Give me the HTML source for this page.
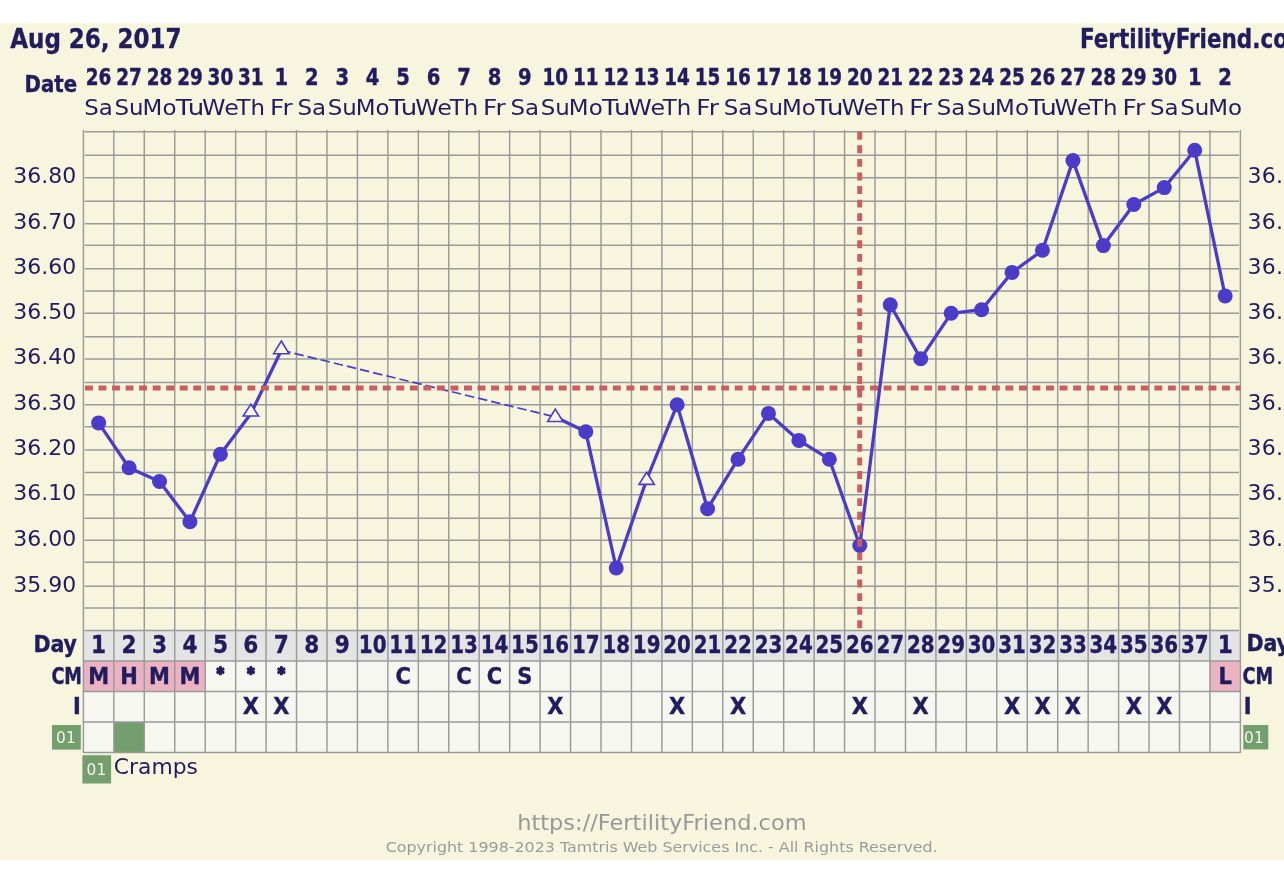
<!DOCTYPE html>
<html lang="en"><head><meta charset="utf-8"><title>FertilityFriend chart - Aug 26, 2017</title>
<style>html,body{margin:0;padding:0;background:#fff;overflow:hidden}svg{display:block}text{white-space:pre}</style></head><body>
<svg width="1284" height="871" viewBox="0 0 1284 871">
<rect x="0" y="0" width="1284" height="871" fill="#fff"/>
<rect x="0" y="23.3" width="1284" height="836.8" fill="#f7f5de"/>
<rect x="83.4" y="630.51" width="1156.99" height="30.5" fill="#e4e4e4"/>
<rect x="83.4" y="661.01" width="1156.99" height="91.5" fill="#f7f7f1"/>
<rect x="83.40" y="661.01" width="30.447" height="30.5" fill="#ebb2c2"/>
<rect x="113.85" y="661.01" width="30.447" height="30.5" fill="#ebb2c2"/>
<rect x="144.29" y="661.01" width="30.447" height="30.5" fill="#ebb2c2"/>
<rect x="174.74" y="661.01" width="30.447" height="30.5" fill="#ebb2c2"/>
<rect x="1209.94" y="661.01" width="30.447" height="30.5" fill="#ebb2c2"/>
<rect x="113.85" y="722.01" width="30.447" height="30.5" fill="#739e6d"/>
<path d="M83.40 130.10V753.11M113.85 130.10V753.11M144.29 130.10V753.11M174.74 130.10V753.11M205.19 130.10V753.11M235.63 130.10V753.11M266.08 130.10V753.11M296.53 130.10V753.11M326.98 130.10V753.11M357.42 130.10V753.11M387.87 130.10V753.11M418.32 130.10V753.11M448.76 130.10V753.11M479.21 130.10V753.11M509.66 130.10V753.11M540.11 130.10V753.11M570.55 130.10V753.11M601.00 130.10V753.11M631.45 130.10V753.11M661.89 130.10V753.11M692.34 130.10V753.11M722.79 130.10V753.11M753.23 130.10V753.11M783.68 130.10V753.11M814.13 130.10V753.11M844.57 130.10V753.11M875.02 130.10V753.11M905.47 130.10V753.11M935.92 130.10V753.11M966.36 130.10V753.11M996.81 130.10V753.11M1027.26 130.10V753.11M1057.70 130.10V753.11M1088.15 130.10V753.11M1118.60 130.10V753.11M1149.05 130.10V753.11M1179.49 130.10V753.11M1209.94 130.10V753.11M1240.39 130.10V753.11M84.70 131.70H1238.89M84.70 155.30H1238.89M84.70 177.70H1238.89M84.70 201.30H1238.89M84.70 223.70H1238.89M84.70 245.30H1238.89M84.70 268.70H1238.89M84.70 291.00H1238.89M84.70 313.30H1238.89M84.70 336.70H1238.89M84.70 359.00H1238.89M84.70 382.50H1238.89M84.70 404.70H1238.89M84.70 426.70H1238.89M84.70 450.00H1238.89M84.70 472.50H1238.89M84.70 494.70H1238.89M84.70 518.30H1238.89M84.70 540.30H1238.89M84.70 562.30H1238.89M84.70 586.30H1238.89M84.70 608.00H1238.89M84.70 630.50H1238.89M83.40 661.01H1240.39M83.40 691.51H1240.39M83.40 722.01H1240.39M83.40 752.51H1240.39" fill="none" stroke="#9a9a9a" stroke-width="1.45"/>
<polyline points="98.62,422.9 129.07,467.8 159.52,481.5 189.96,521.8 220.41,454.3 250.86,413.8 281.31,350.2" fill="none" stroke="#4a3cc8" stroke-width="3.3" stroke-linejoin="round"/>
<polyline points="555.33,417.0 585.78,431.8 616.22,568.0 646.67,479.5 677.12,404.8 707.56,508.7 738.01,459.2 768.46,413.4 798.90,440.4 829.35,459.2 859.80,545.5 890.25,304.7 920.69,358.8 951.14,313.3 981.59,309.7 1012.03,272.4 1042.48,250.3 1072.93,160.6 1103.37,245.6 1133.82,204.5 1164.27,187.6 1194.72,150.3 1225.16,296.0" fill="none" stroke="#4a3cc8" stroke-width="3.3" stroke-linejoin="round"/>
<path d="M281.31 350.2L555.33 417.0" stroke="#4a3cc8" stroke-width="1.7" stroke-dasharray="9.5 4" fill="none"/>
<circle cx="98.62" cy="422.9" r="7.5" fill="#4a3cc8"/>
<circle cx="129.07" cy="467.8" r="7.5" fill="#4a3cc8"/>
<circle cx="159.52" cy="481.5" r="7.5" fill="#4a3cc8"/>
<circle cx="189.96" cy="521.8" r="7.5" fill="#4a3cc8"/>
<circle cx="220.41" cy="454.3" r="7.5" fill="#4a3cc8"/>
<path d="M250.86 404.10L258.56 416.00H243.16Z" fill="#f9f7e6" stroke="#4a3cc8" stroke-width="1.6" stroke-linejoin="miter"/>
<path d="M281.31 341.00L289.01 353.70H273.61Z" fill="#f9f7e6" stroke="#4a3cc8" stroke-width="1.6" stroke-linejoin="miter"/>
<path d="M555.33 409.10L563.03 421.50H547.63Z" fill="#f9f7e6" stroke="#4a3cc8" stroke-width="1.6" stroke-linejoin="miter"/>
<circle cx="585.78" cy="431.8" r="7.5" fill="#4a3cc8"/>
<circle cx="616.22" cy="568.0" r="7.5" fill="#4a3cc8"/>
<path d="M646.67 472.30L654.37 484.40H638.97Z" fill="#f9f7e6" stroke="#4a3cc8" stroke-width="1.6" stroke-linejoin="miter"/>
<circle cx="677.12" cy="404.8" r="7.5" fill="#4a3cc8"/>
<circle cx="707.56" cy="508.7" r="7.5" fill="#4a3cc8"/>
<circle cx="738.01" cy="459.2" r="7.5" fill="#4a3cc8"/>
<circle cx="768.46" cy="413.4" r="7.5" fill="#4a3cc8"/>
<circle cx="798.90" cy="440.4" r="7.5" fill="#4a3cc8"/>
<circle cx="829.35" cy="459.2" r="7.5" fill="#4a3cc8"/>
<circle cx="859.80" cy="545.5" r="7.5" fill="#4a3cc8"/>
<circle cx="890.25" cy="304.7" r="7.5" fill="#4a3cc8"/>
<circle cx="920.69" cy="358.8" r="7.5" fill="#4a3cc8"/>
<circle cx="951.14" cy="313.3" r="7.5" fill="#4a3cc8"/>
<circle cx="981.59" cy="309.7" r="7.5" fill="#4a3cc8"/>
<circle cx="1012.03" cy="272.4" r="7.5" fill="#4a3cc8"/>
<circle cx="1042.48" cy="250.3" r="7.5" fill="#4a3cc8"/>
<circle cx="1072.93" cy="160.6" r="7.5" fill="#4a3cc8"/>
<circle cx="1103.37" cy="245.6" r="7.5" fill="#4a3cc8"/>
<circle cx="1133.82" cy="204.5" r="7.5" fill="#4a3cc8"/>
<circle cx="1164.27" cy="187.6" r="7.5" fill="#4a3cc8"/>
<circle cx="1194.72" cy="150.3" r="7.5" fill="#4a3cc8"/>
<circle cx="1225.16" cy="296.0" r="7.5" fill="#4a3cc8"/>
<path d="M85 388H1240.39" stroke="#ca5d60" stroke-width="4.9" stroke-dasharray="7.9 5.636" fill="none"/>
<path d="M859.7 131.8V630.51" stroke="#ca5d60" stroke-width="4.9" stroke-dasharray="7.9 5.67" fill="none"/>
<text x="10.3" y="48" font-family="DejaVu Sans Condensed, DejaVu Sans, Liberation Sans, sans-serif" font-weight="bold" stroke="#211c5e" stroke-width="0.35" font-size="26" fill="#211c5e" textLength="171.2" lengthAdjust="spacingAndGlyphs">Aug 26, 2017</text>
<text x="1080" y="48.2" font-family="DejaVu Sans Condensed, DejaVu Sans, Liberation Sans, sans-serif" font-weight="bold" stroke="#211c5e" stroke-width="0.35" font-size="26" fill="#211c5e" textLength="230.4" lengthAdjust="spacingAndGlyphs">FertilityFriend.com</text>
<text x="24.6" y="91.7" font-family="DejaVu Sans Condensed, DejaVu Sans, Liberation Sans, sans-serif" font-weight="bold" stroke="#211c5e" stroke-width="0.35" font-size="23.3" fill="#211c5e" textLength="52.6" lengthAdjust="spacingAndGlyphs">Date</text>
<text x="98.62" y="85" font-family="DejaVu Sans Condensed, DejaVu Sans, Liberation Sans, sans-serif" font-weight="bold" stroke="#211c5e" stroke-width="0.4" font-size="23" fill="#211c5e" text-anchor="middle" textLength="25.6" lengthAdjust="spacingAndGlyphs">26</text>
<text x="98.62" y="115" font-family="DejaVu Sans, Liberation Sans, sans-serif" font-size="21.6" fill="#211c5e" text-anchor="middle" textLength="28.6" lengthAdjust="spacingAndGlyphs">Sa</text>
<text x="129.07" y="85" font-family="DejaVu Sans Condensed, DejaVu Sans, Liberation Sans, sans-serif" font-weight="bold" stroke="#211c5e" stroke-width="0.4" font-size="23" fill="#211c5e" text-anchor="middle" textLength="25.6" lengthAdjust="spacingAndGlyphs">27</text>
<text x="129.07" y="115" font-family="DejaVu Sans, Liberation Sans, sans-serif" font-size="21.6" fill="#211c5e" text-anchor="middle" textLength="29.1" lengthAdjust="spacingAndGlyphs">Su</text>
<text x="159.52" y="85" font-family="DejaVu Sans Condensed, DejaVu Sans, Liberation Sans, sans-serif" font-weight="bold" stroke="#211c5e" stroke-width="0.4" font-size="23" fill="#211c5e" text-anchor="middle" textLength="25.6" lengthAdjust="spacingAndGlyphs">28</text>
<text x="159.52" y="115" font-family="DejaVu Sans, Liberation Sans, sans-serif" font-size="21.6" fill="#211c5e" text-anchor="middle" textLength="33.8" lengthAdjust="spacingAndGlyphs">Mo</text>
<text x="189.96" y="85" font-family="DejaVu Sans Condensed, DejaVu Sans, Liberation Sans, sans-serif" font-weight="bold" stroke="#211c5e" stroke-width="0.4" font-size="23" fill="#211c5e" text-anchor="middle" textLength="25.6" lengthAdjust="spacingAndGlyphs">29</text>
<text x="189.96" y="115" font-family="DejaVu Sans, Liberation Sans, sans-serif" font-size="21.6" fill="#211c5e" text-anchor="middle" textLength="28.5" lengthAdjust="spacingAndGlyphs">Tu</text>
<text x="220.41" y="85" font-family="DejaVu Sans Condensed, DejaVu Sans, Liberation Sans, sans-serif" font-weight="bold" stroke="#211c5e" stroke-width="0.4" font-size="23" fill="#211c5e" text-anchor="middle" textLength="25.6" lengthAdjust="spacingAndGlyphs">30</text>
<text x="220.41" y="115" font-family="DejaVu Sans, Liberation Sans, sans-serif" font-size="21.6" fill="#211c5e" text-anchor="middle" textLength="36.7" lengthAdjust="spacingAndGlyphs">We</text>
<text x="250.86" y="85" font-family="DejaVu Sans Condensed, DejaVu Sans, Liberation Sans, sans-serif" font-weight="bold" stroke="#211c5e" stroke-width="0.4" font-size="23" fill="#211c5e" text-anchor="middle" textLength="25.6" lengthAdjust="spacingAndGlyphs">31</text>
<text x="250.86" y="115" font-family="DejaVu Sans, Liberation Sans, sans-serif" font-size="21.6" fill="#211c5e" text-anchor="middle" textLength="28.5" lengthAdjust="spacingAndGlyphs">Th</text>
<text x="281.31" y="85" font-family="DejaVu Sans Condensed, DejaVu Sans, Liberation Sans, sans-serif" font-weight="bold" stroke="#211c5e" stroke-width="0.4" font-size="23" fill="#211c5e" text-anchor="middle" textLength="13.6" lengthAdjust="spacingAndGlyphs">1</text>
<text x="281.31" y="115" font-family="DejaVu Sans, Liberation Sans, sans-serif" font-size="21.6" fill="#211c5e" text-anchor="middle" textLength="22.6" lengthAdjust="spacingAndGlyphs">Fr</text>
<text x="311.75" y="85" font-family="DejaVu Sans Condensed, DejaVu Sans, Liberation Sans, sans-serif" font-weight="bold" stroke="#211c5e" stroke-width="0.4" font-size="23" fill="#211c5e" text-anchor="middle" textLength="13.6" lengthAdjust="spacingAndGlyphs">2</text>
<text x="311.75" y="115" font-family="DejaVu Sans, Liberation Sans, sans-serif" font-size="21.6" fill="#211c5e" text-anchor="middle" textLength="28.6" lengthAdjust="spacingAndGlyphs">Sa</text>
<text x="342.20" y="85" font-family="DejaVu Sans Condensed, DejaVu Sans, Liberation Sans, sans-serif" font-weight="bold" stroke="#211c5e" stroke-width="0.4" font-size="23" fill="#211c5e" text-anchor="middle" textLength="13.6" lengthAdjust="spacingAndGlyphs">3</text>
<text x="342.20" y="115" font-family="DejaVu Sans, Liberation Sans, sans-serif" font-size="21.6" fill="#211c5e" text-anchor="middle" textLength="29.1" lengthAdjust="spacingAndGlyphs">Su</text>
<text x="372.65" y="85" font-family="DejaVu Sans Condensed, DejaVu Sans, Liberation Sans, sans-serif" font-weight="bold" stroke="#211c5e" stroke-width="0.4" font-size="23" fill="#211c5e" text-anchor="middle" textLength="13.6" lengthAdjust="spacingAndGlyphs">4</text>
<text x="372.65" y="115" font-family="DejaVu Sans, Liberation Sans, sans-serif" font-size="21.6" fill="#211c5e" text-anchor="middle" textLength="33.8" lengthAdjust="spacingAndGlyphs">Mo</text>
<text x="403.09" y="85" font-family="DejaVu Sans Condensed, DejaVu Sans, Liberation Sans, sans-serif" font-weight="bold" stroke="#211c5e" stroke-width="0.4" font-size="23" fill="#211c5e" text-anchor="middle" textLength="13.6" lengthAdjust="spacingAndGlyphs">5</text>
<text x="403.09" y="115" font-family="DejaVu Sans, Liberation Sans, sans-serif" font-size="21.6" fill="#211c5e" text-anchor="middle" textLength="28.5" lengthAdjust="spacingAndGlyphs">Tu</text>
<text x="433.54" y="85" font-family="DejaVu Sans Condensed, DejaVu Sans, Liberation Sans, sans-serif" font-weight="bold" stroke="#211c5e" stroke-width="0.4" font-size="23" fill="#211c5e" text-anchor="middle" textLength="13.6" lengthAdjust="spacingAndGlyphs">6</text>
<text x="433.54" y="115" font-family="DejaVu Sans, Liberation Sans, sans-serif" font-size="21.6" fill="#211c5e" text-anchor="middle" textLength="36.7" lengthAdjust="spacingAndGlyphs">We</text>
<text x="463.99" y="85" font-family="DejaVu Sans Condensed, DejaVu Sans, Liberation Sans, sans-serif" font-weight="bold" stroke="#211c5e" stroke-width="0.4" font-size="23" fill="#211c5e" text-anchor="middle" textLength="13.6" lengthAdjust="spacingAndGlyphs">7</text>
<text x="463.99" y="115" font-family="DejaVu Sans, Liberation Sans, sans-serif" font-size="21.6" fill="#211c5e" text-anchor="middle" textLength="28.5" lengthAdjust="spacingAndGlyphs">Th</text>
<text x="494.43" y="85" font-family="DejaVu Sans Condensed, DejaVu Sans, Liberation Sans, sans-serif" font-weight="bold" stroke="#211c5e" stroke-width="0.4" font-size="23" fill="#211c5e" text-anchor="middle" textLength="13.6" lengthAdjust="spacingAndGlyphs">8</text>
<text x="494.43" y="115" font-family="DejaVu Sans, Liberation Sans, sans-serif" font-size="21.6" fill="#211c5e" text-anchor="middle" textLength="22.6" lengthAdjust="spacingAndGlyphs">Fr</text>
<text x="524.88" y="85" font-family="DejaVu Sans Condensed, DejaVu Sans, Liberation Sans, sans-serif" font-weight="bold" stroke="#211c5e" stroke-width="0.4" font-size="23" fill="#211c5e" text-anchor="middle" textLength="13.6" lengthAdjust="spacingAndGlyphs">9</text>
<text x="524.88" y="115" font-family="DejaVu Sans, Liberation Sans, sans-serif" font-size="21.6" fill="#211c5e" text-anchor="middle" textLength="28.6" lengthAdjust="spacingAndGlyphs">Sa</text>
<text x="555.33" y="85" font-family="DejaVu Sans Condensed, DejaVu Sans, Liberation Sans, sans-serif" font-weight="bold" stroke="#211c5e" stroke-width="0.4" font-size="23" fill="#211c5e" text-anchor="middle" textLength="25.6" lengthAdjust="spacingAndGlyphs">10</text>
<text x="555.33" y="115" font-family="DejaVu Sans, Liberation Sans, sans-serif" font-size="21.6" fill="#211c5e" text-anchor="middle" textLength="29.1" lengthAdjust="spacingAndGlyphs">Su</text>
<text x="585.78" y="85" font-family="DejaVu Sans Condensed, DejaVu Sans, Liberation Sans, sans-serif" font-weight="bold" stroke="#211c5e" stroke-width="0.4" font-size="23" fill="#211c5e" text-anchor="middle" textLength="25.6" lengthAdjust="spacingAndGlyphs">11</text>
<text x="585.78" y="115" font-family="DejaVu Sans, Liberation Sans, sans-serif" font-size="21.6" fill="#211c5e" text-anchor="middle" textLength="33.8" lengthAdjust="spacingAndGlyphs">Mo</text>
<text x="616.22" y="85" font-family="DejaVu Sans Condensed, DejaVu Sans, Liberation Sans, sans-serif" font-weight="bold" stroke="#211c5e" stroke-width="0.4" font-size="23" fill="#211c5e" text-anchor="middle" textLength="25.6" lengthAdjust="spacingAndGlyphs">12</text>
<text x="616.22" y="115" font-family="DejaVu Sans, Liberation Sans, sans-serif" font-size="21.6" fill="#211c5e" text-anchor="middle" textLength="28.5" lengthAdjust="spacingAndGlyphs">Tu</text>
<text x="646.67" y="85" font-family="DejaVu Sans Condensed, DejaVu Sans, Liberation Sans, sans-serif" font-weight="bold" stroke="#211c5e" stroke-width="0.4" font-size="23" fill="#211c5e" text-anchor="middle" textLength="25.6" lengthAdjust="spacingAndGlyphs">13</text>
<text x="646.67" y="115" font-family="DejaVu Sans, Liberation Sans, sans-serif" font-size="21.6" fill="#211c5e" text-anchor="middle" textLength="36.7" lengthAdjust="spacingAndGlyphs">We</text>
<text x="677.12" y="85" font-family="DejaVu Sans Condensed, DejaVu Sans, Liberation Sans, sans-serif" font-weight="bold" stroke="#211c5e" stroke-width="0.4" font-size="23" fill="#211c5e" text-anchor="middle" textLength="25.6" lengthAdjust="spacingAndGlyphs">14</text>
<text x="677.12" y="115" font-family="DejaVu Sans, Liberation Sans, sans-serif" font-size="21.6" fill="#211c5e" text-anchor="middle" textLength="28.5" lengthAdjust="spacingAndGlyphs">Th</text>
<text x="707.56" y="85" font-family="DejaVu Sans Condensed, DejaVu Sans, Liberation Sans, sans-serif" font-weight="bold" stroke="#211c5e" stroke-width="0.4" font-size="23" fill="#211c5e" text-anchor="middle" textLength="25.6" lengthAdjust="spacingAndGlyphs">15</text>
<text x="707.56" y="115" font-family="DejaVu Sans, Liberation Sans, sans-serif" font-size="21.6" fill="#211c5e" text-anchor="middle" textLength="22.6" lengthAdjust="spacingAndGlyphs">Fr</text>
<text x="738.01" y="85" font-family="DejaVu Sans Condensed, DejaVu Sans, Liberation Sans, sans-serif" font-weight="bold" stroke="#211c5e" stroke-width="0.4" font-size="23" fill="#211c5e" text-anchor="middle" textLength="25.6" lengthAdjust="spacingAndGlyphs">16</text>
<text x="738.01" y="115" font-family="DejaVu Sans, Liberation Sans, sans-serif" font-size="21.6" fill="#211c5e" text-anchor="middle" textLength="28.6" lengthAdjust="spacingAndGlyphs">Sa</text>
<text x="768.46" y="85" font-family="DejaVu Sans Condensed, DejaVu Sans, Liberation Sans, sans-serif" font-weight="bold" stroke="#211c5e" stroke-width="0.4" font-size="23" fill="#211c5e" text-anchor="middle" textLength="25.6" lengthAdjust="spacingAndGlyphs">17</text>
<text x="768.46" y="115" font-family="DejaVu Sans, Liberation Sans, sans-serif" font-size="21.6" fill="#211c5e" text-anchor="middle" textLength="29.1" lengthAdjust="spacingAndGlyphs">Su</text>
<text x="798.90" y="85" font-family="DejaVu Sans Condensed, DejaVu Sans, Liberation Sans, sans-serif" font-weight="bold" stroke="#211c5e" stroke-width="0.4" font-size="23" fill="#211c5e" text-anchor="middle" textLength="25.6" lengthAdjust="spacingAndGlyphs">18</text>
<text x="798.90" y="115" font-family="DejaVu Sans, Liberation Sans, sans-serif" font-size="21.6" fill="#211c5e" text-anchor="middle" textLength="33.8" lengthAdjust="spacingAndGlyphs">Mo</text>
<text x="829.35" y="85" font-family="DejaVu Sans Condensed, DejaVu Sans, Liberation Sans, sans-serif" font-weight="bold" stroke="#211c5e" stroke-width="0.4" font-size="23" fill="#211c5e" text-anchor="middle" textLength="25.6" lengthAdjust="spacingAndGlyphs">19</text>
<text x="829.35" y="115" font-family="DejaVu Sans, Liberation Sans, sans-serif" font-size="21.6" fill="#211c5e" text-anchor="middle" textLength="28.5" lengthAdjust="spacingAndGlyphs">Tu</text>
<text x="859.80" y="85" font-family="DejaVu Sans Condensed, DejaVu Sans, Liberation Sans, sans-serif" font-weight="bold" stroke="#211c5e" stroke-width="0.4" font-size="23" fill="#211c5e" text-anchor="middle" textLength="25.6" lengthAdjust="spacingAndGlyphs">20</text>
<text x="859.80" y="115" font-family="DejaVu Sans, Liberation Sans, sans-serif" font-size="21.6" fill="#211c5e" text-anchor="middle" textLength="36.7" lengthAdjust="spacingAndGlyphs">We</text>
<text x="890.25" y="85" font-family="DejaVu Sans Condensed, DejaVu Sans, Liberation Sans, sans-serif" font-weight="bold" stroke="#211c5e" stroke-width="0.4" font-size="23" fill="#211c5e" text-anchor="middle" textLength="25.6" lengthAdjust="spacingAndGlyphs">21</text>
<text x="890.25" y="115" font-family="DejaVu Sans, Liberation Sans, sans-serif" font-size="21.6" fill="#211c5e" text-anchor="middle" textLength="28.5" lengthAdjust="spacingAndGlyphs">Th</text>
<text x="920.69" y="85" font-family="DejaVu Sans Condensed, DejaVu Sans, Liberation Sans, sans-serif" font-weight="bold" stroke="#211c5e" stroke-width="0.4" font-size="23" fill="#211c5e" text-anchor="middle" textLength="25.6" lengthAdjust="spacingAndGlyphs">22</text>
<text x="920.69" y="115" font-family="DejaVu Sans, Liberation Sans, sans-serif" font-size="21.6" fill="#211c5e" text-anchor="middle" textLength="22.6" lengthAdjust="spacingAndGlyphs">Fr</text>
<text x="951.14" y="85" font-family="DejaVu Sans Condensed, DejaVu Sans, Liberation Sans, sans-serif" font-weight="bold" stroke="#211c5e" stroke-width="0.4" font-size="23" fill="#211c5e" text-anchor="middle" textLength="25.6" lengthAdjust="spacingAndGlyphs">23</text>
<text x="951.14" y="115" font-family="DejaVu Sans, Liberation Sans, sans-serif" font-size="21.6" fill="#211c5e" text-anchor="middle" textLength="28.6" lengthAdjust="spacingAndGlyphs">Sa</text>
<text x="981.59" y="85" font-family="DejaVu Sans Condensed, DejaVu Sans, Liberation Sans, sans-serif" font-weight="bold" stroke="#211c5e" stroke-width="0.4" font-size="23" fill="#211c5e" text-anchor="middle" textLength="25.6" lengthAdjust="spacingAndGlyphs">24</text>
<text x="981.59" y="115" font-family="DejaVu Sans, Liberation Sans, sans-serif" font-size="21.6" fill="#211c5e" text-anchor="middle" textLength="29.1" lengthAdjust="spacingAndGlyphs">Su</text>
<text x="1012.03" y="85" font-family="DejaVu Sans Condensed, DejaVu Sans, Liberation Sans, sans-serif" font-weight="bold" stroke="#211c5e" stroke-width="0.4" font-size="23" fill="#211c5e" text-anchor="middle" textLength="25.6" lengthAdjust="spacingAndGlyphs">25</text>
<text x="1012.03" y="115" font-family="DejaVu Sans, Liberation Sans, sans-serif" font-size="21.6" fill="#211c5e" text-anchor="middle" textLength="33.8" lengthAdjust="spacingAndGlyphs">Mo</text>
<text x="1042.48" y="85" font-family="DejaVu Sans Condensed, DejaVu Sans, Liberation Sans, sans-serif" font-weight="bold" stroke="#211c5e" stroke-width="0.4" font-size="23" fill="#211c5e" text-anchor="middle" textLength="25.6" lengthAdjust="spacingAndGlyphs">26</text>
<text x="1042.48" y="115" font-family="DejaVu Sans, Liberation Sans, sans-serif" font-size="21.6" fill="#211c5e" text-anchor="middle" textLength="28.5" lengthAdjust="spacingAndGlyphs">Tu</text>
<text x="1072.93" y="85" font-family="DejaVu Sans Condensed, DejaVu Sans, Liberation Sans, sans-serif" font-weight="bold" stroke="#211c5e" stroke-width="0.4" font-size="23" fill="#211c5e" text-anchor="middle" textLength="25.6" lengthAdjust="spacingAndGlyphs">27</text>
<text x="1072.93" y="115" font-family="DejaVu Sans, Liberation Sans, sans-serif" font-size="21.6" fill="#211c5e" text-anchor="middle" textLength="36.7" lengthAdjust="spacingAndGlyphs">We</text>
<text x="1103.37" y="85" font-family="DejaVu Sans Condensed, DejaVu Sans, Liberation Sans, sans-serif" font-weight="bold" stroke="#211c5e" stroke-width="0.4" font-size="23" fill="#211c5e" text-anchor="middle" textLength="25.6" lengthAdjust="spacingAndGlyphs">28</text>
<text x="1103.37" y="115" font-family="DejaVu Sans, Liberation Sans, sans-serif" font-size="21.6" fill="#211c5e" text-anchor="middle" textLength="28.5" lengthAdjust="spacingAndGlyphs">Th</text>
<text x="1133.82" y="85" font-family="DejaVu Sans Condensed, DejaVu Sans, Liberation Sans, sans-serif" font-weight="bold" stroke="#211c5e" stroke-width="0.4" font-size="23" fill="#211c5e" text-anchor="middle" textLength="25.6" lengthAdjust="spacingAndGlyphs">29</text>
<text x="1133.82" y="115" font-family="DejaVu Sans, Liberation Sans, sans-serif" font-size="21.6" fill="#211c5e" text-anchor="middle" textLength="22.6" lengthAdjust="spacingAndGlyphs">Fr</text>
<text x="1164.27" y="85" font-family="DejaVu Sans Condensed, DejaVu Sans, Liberation Sans, sans-serif" font-weight="bold" stroke="#211c5e" stroke-width="0.4" font-size="23" fill="#211c5e" text-anchor="middle" textLength="25.6" lengthAdjust="spacingAndGlyphs">30</text>
<text x="1164.27" y="115" font-family="DejaVu Sans, Liberation Sans, sans-serif" font-size="21.6" fill="#211c5e" text-anchor="middle" textLength="28.6" lengthAdjust="spacingAndGlyphs">Sa</text>
<text x="1194.72" y="85" font-family="DejaVu Sans Condensed, DejaVu Sans, Liberation Sans, sans-serif" font-weight="bold" stroke="#211c5e" stroke-width="0.4" font-size="23" fill="#211c5e" text-anchor="middle" textLength="13.6" lengthAdjust="spacingAndGlyphs">1</text>
<text x="1194.72" y="115" font-family="DejaVu Sans, Liberation Sans, sans-serif" font-size="21.6" fill="#211c5e" text-anchor="middle" textLength="29.1" lengthAdjust="spacingAndGlyphs">Su</text>
<text x="1225.16" y="85" font-family="DejaVu Sans Condensed, DejaVu Sans, Liberation Sans, sans-serif" font-weight="bold" stroke="#211c5e" stroke-width="0.4" font-size="23" fill="#211c5e" text-anchor="middle" textLength="13.6" lengthAdjust="spacingAndGlyphs">2</text>
<text x="1225.16" y="115" font-family="DejaVu Sans, Liberation Sans, sans-serif" font-size="21.6" fill="#211c5e" text-anchor="middle" textLength="33.8" lengthAdjust="spacingAndGlyphs">Mo</text>
<text x="76.3" y="182.9" font-family="DejaVu Sans, Liberation Sans, sans-serif" font-size="22" fill="#211c5e" text-anchor="end">36.80</text>
<text x="1247.6" y="182.9" font-family="DejaVu Sans, Liberation Sans, sans-serif" font-size="22" fill="#211c5e" textLength="64" lengthAdjust="spacing">36.80</text>
<text x="76.3" y="228.9" font-family="DejaVu Sans, Liberation Sans, sans-serif" font-size="22" fill="#211c5e" text-anchor="end">36.70</text>
<text x="1247.6" y="228.9" font-family="DejaVu Sans, Liberation Sans, sans-serif" font-size="22" fill="#211c5e" textLength="64" lengthAdjust="spacing">36.70</text>
<text x="76.3" y="273.9" font-family="DejaVu Sans, Liberation Sans, sans-serif" font-size="22" fill="#211c5e" text-anchor="end">36.60</text>
<text x="1247.6" y="273.9" font-family="DejaVu Sans, Liberation Sans, sans-serif" font-size="22" fill="#211c5e" textLength="64" lengthAdjust="spacing">36.60</text>
<text x="76.3" y="318.5" font-family="DejaVu Sans, Liberation Sans, sans-serif" font-size="22" fill="#211c5e" text-anchor="end">36.50</text>
<text x="1247.6" y="318.5" font-family="DejaVu Sans, Liberation Sans, sans-serif" font-size="22" fill="#211c5e" textLength="64" lengthAdjust="spacing">36.50</text>
<text x="76.3" y="364.2" font-family="DejaVu Sans, Liberation Sans, sans-serif" font-size="22" fill="#211c5e" text-anchor="end">36.40</text>
<text x="1247.6" y="364.2" font-family="DejaVu Sans, Liberation Sans, sans-serif" font-size="22" fill="#211c5e" textLength="64" lengthAdjust="spacing">36.40</text>
<text x="76.3" y="409.9" font-family="DejaVu Sans, Liberation Sans, sans-serif" font-size="22" fill="#211c5e" text-anchor="end">36.30</text>
<text x="1247.6" y="409.9" font-family="DejaVu Sans, Liberation Sans, sans-serif" font-size="22" fill="#211c5e" textLength="64" lengthAdjust="spacing">36.30</text>
<text x="76.3" y="455.2" font-family="DejaVu Sans, Liberation Sans, sans-serif" font-size="22" fill="#211c5e" text-anchor="end">36.20</text>
<text x="1247.6" y="455.2" font-family="DejaVu Sans, Liberation Sans, sans-serif" font-size="22" fill="#211c5e" textLength="64" lengthAdjust="spacing">36.20</text>
<text x="76.3" y="499.9" font-family="DejaVu Sans, Liberation Sans, sans-serif" font-size="22" fill="#211c5e" text-anchor="end">36.10</text>
<text x="1247.6" y="499.9" font-family="DejaVu Sans, Liberation Sans, sans-serif" font-size="22" fill="#211c5e" textLength="64" lengthAdjust="spacing">36.10</text>
<text x="76.3" y="545.5" font-family="DejaVu Sans, Liberation Sans, sans-serif" font-size="22" fill="#211c5e" text-anchor="end">36.00</text>
<text x="1247.6" y="545.5" font-family="DejaVu Sans, Liberation Sans, sans-serif" font-size="22" fill="#211c5e" textLength="64" lengthAdjust="spacing">36.00</text>
<text x="76.3" y="591.5" font-family="DejaVu Sans, Liberation Sans, sans-serif" font-size="22" fill="#211c5e" text-anchor="end">35.90</text>
<text x="1247.6" y="591.5" font-family="DejaVu Sans, Liberation Sans, sans-serif" font-size="22" fill="#211c5e" textLength="64" lengthAdjust="spacing">35.90</text>
<text x="33.4" y="651.7" font-family="DejaVu Sans Condensed, DejaVu Sans, Liberation Sans, sans-serif" font-weight="bold" stroke="#211c5e" stroke-width="0.35" font-size="23.3" fill="#211c5e" textLength="43.6" lengthAdjust="spacingAndGlyphs">Day</text>
<text x="1246.4" y="651.4" font-family="DejaVu Sans Condensed, DejaVu Sans, Liberation Sans, sans-serif" font-weight="bold" stroke="#211c5e" stroke-width="0.35" font-size="23.3" fill="#211c5e" textLength="43.6" lengthAdjust="spacingAndGlyphs">Day</text>
<text x="51.4" y="683.7" font-family="DejaVu Sans Condensed, DejaVu Sans, Liberation Sans, sans-serif" font-weight="bold" stroke="#211c5e" stroke-width="0.4" font-size="23.3" fill="#211c5e" textLength="30.6" lengthAdjust="spacingAndGlyphs">CM</text>
<text x="1242.6" y="683.7" font-family="DejaVu Sans Condensed, DejaVu Sans, Liberation Sans, sans-serif" font-weight="bold" stroke="#211c5e" stroke-width="0.4" font-size="23.3" fill="#211c5e" textLength="30.6" lengthAdjust="spacingAndGlyphs">CM</text>
<text x="73.1" y="714.2" font-family="DejaVu Sans Condensed, DejaVu Sans, Liberation Sans, sans-serif" font-weight="bold" stroke="#211c5e" stroke-width="0.4" font-size="23.3" fill="#211c5e">I</text>
<text x="1243.7" y="714.4" font-family="DejaVu Sans Condensed, DejaVu Sans, Liberation Sans, sans-serif" font-weight="bold" stroke="#211c5e" stroke-width="0.4" font-size="23.3" fill="#211c5e">I</text>
<text x="98.62" y="653" font-family="DejaVu Sans Condensed, DejaVu Sans, Liberation Sans, sans-serif" font-weight="bold" stroke="#211c5e" stroke-width="0.35" font-size="24" fill="#211c5e" text-anchor="middle">1</text>
<text x="129.07" y="653" font-family="DejaVu Sans Condensed, DejaVu Sans, Liberation Sans, sans-serif" font-weight="bold" stroke="#211c5e" stroke-width="0.35" font-size="24" fill="#211c5e" text-anchor="middle">2</text>
<text x="159.52" y="653" font-family="DejaVu Sans Condensed, DejaVu Sans, Liberation Sans, sans-serif" font-weight="bold" stroke="#211c5e" stroke-width="0.35" font-size="24" fill="#211c5e" text-anchor="middle">3</text>
<text x="189.96" y="653" font-family="DejaVu Sans Condensed, DejaVu Sans, Liberation Sans, sans-serif" font-weight="bold" stroke="#211c5e" stroke-width="0.35" font-size="24" fill="#211c5e" text-anchor="middle">4</text>
<text x="220.41" y="653" font-family="DejaVu Sans Condensed, DejaVu Sans, Liberation Sans, sans-serif" font-weight="bold" stroke="#211c5e" stroke-width="0.35" font-size="24" fill="#211c5e" text-anchor="middle">5</text>
<text x="250.86" y="653" font-family="DejaVu Sans Condensed, DejaVu Sans, Liberation Sans, sans-serif" font-weight="bold" stroke="#211c5e" stroke-width="0.35" font-size="24" fill="#211c5e" text-anchor="middle">6</text>
<text x="281.31" y="653" font-family="DejaVu Sans Condensed, DejaVu Sans, Liberation Sans, sans-serif" font-weight="bold" stroke="#211c5e" stroke-width="0.35" font-size="24" fill="#211c5e" text-anchor="middle">7</text>
<text x="311.75" y="653" font-family="DejaVu Sans Condensed, DejaVu Sans, Liberation Sans, sans-serif" font-weight="bold" stroke="#211c5e" stroke-width="0.35" font-size="24" fill="#211c5e" text-anchor="middle">8</text>
<text x="342.20" y="653" font-family="DejaVu Sans Condensed, DejaVu Sans, Liberation Sans, sans-serif" font-weight="bold" stroke="#211c5e" stroke-width="0.35" font-size="24" fill="#211c5e" text-anchor="middle">9</text>
<text x="372.65" y="653" font-family="DejaVu Sans Condensed, DejaVu Sans, Liberation Sans, sans-serif" font-weight="bold" stroke="#211c5e" stroke-width="0.35" font-size="24" fill="#211c5e" text-anchor="middle" textLength="27.6" lengthAdjust="spacingAndGlyphs">10</text>
<text x="403.09" y="653" font-family="DejaVu Sans Condensed, DejaVu Sans, Liberation Sans, sans-serif" font-weight="bold" stroke="#211c5e" stroke-width="0.35" font-size="24" fill="#211c5e" text-anchor="middle" textLength="27.6" lengthAdjust="spacingAndGlyphs">11</text>
<text x="433.54" y="653" font-family="DejaVu Sans Condensed, DejaVu Sans, Liberation Sans, sans-serif" font-weight="bold" stroke="#211c5e" stroke-width="0.35" font-size="24" fill="#211c5e" text-anchor="middle" textLength="27.6" lengthAdjust="spacingAndGlyphs">12</text>
<text x="463.99" y="653" font-family="DejaVu Sans Condensed, DejaVu Sans, Liberation Sans, sans-serif" font-weight="bold" stroke="#211c5e" stroke-width="0.35" font-size="24" fill="#211c5e" text-anchor="middle" textLength="27.6" lengthAdjust="spacingAndGlyphs">13</text>
<text x="494.43" y="653" font-family="DejaVu Sans Condensed, DejaVu Sans, Liberation Sans, sans-serif" font-weight="bold" stroke="#211c5e" stroke-width="0.35" font-size="24" fill="#211c5e" text-anchor="middle" textLength="27.6" lengthAdjust="spacingAndGlyphs">14</text>
<text x="524.88" y="653" font-family="DejaVu Sans Condensed, DejaVu Sans, Liberation Sans, sans-serif" font-weight="bold" stroke="#211c5e" stroke-width="0.35" font-size="24" fill="#211c5e" text-anchor="middle" textLength="27.6" lengthAdjust="spacingAndGlyphs">15</text>
<text x="555.33" y="653" font-family="DejaVu Sans Condensed, DejaVu Sans, Liberation Sans, sans-serif" font-weight="bold" stroke="#211c5e" stroke-width="0.35" font-size="24" fill="#211c5e" text-anchor="middle" textLength="27.6" lengthAdjust="spacingAndGlyphs">16</text>
<text x="585.78" y="653" font-family="DejaVu Sans Condensed, DejaVu Sans, Liberation Sans, sans-serif" font-weight="bold" stroke="#211c5e" stroke-width="0.35" font-size="24" fill="#211c5e" text-anchor="middle" textLength="27.6" lengthAdjust="spacingAndGlyphs">17</text>
<text x="616.22" y="653" font-family="DejaVu Sans Condensed, DejaVu Sans, Liberation Sans, sans-serif" font-weight="bold" stroke="#211c5e" stroke-width="0.35" font-size="24" fill="#211c5e" text-anchor="middle" textLength="27.6" lengthAdjust="spacingAndGlyphs">18</text>
<text x="646.67" y="653" font-family="DejaVu Sans Condensed, DejaVu Sans, Liberation Sans, sans-serif" font-weight="bold" stroke="#211c5e" stroke-width="0.35" font-size="24" fill="#211c5e" text-anchor="middle" textLength="27.6" lengthAdjust="spacingAndGlyphs">19</text>
<text x="677.12" y="653" font-family="DejaVu Sans Condensed, DejaVu Sans, Liberation Sans, sans-serif" font-weight="bold" stroke="#211c5e" stroke-width="0.35" font-size="24" fill="#211c5e" text-anchor="middle" textLength="27.6" lengthAdjust="spacingAndGlyphs">20</text>
<text x="707.56" y="653" font-family="DejaVu Sans Condensed, DejaVu Sans, Liberation Sans, sans-serif" font-weight="bold" stroke="#211c5e" stroke-width="0.35" font-size="24" fill="#211c5e" text-anchor="middle" textLength="27.6" lengthAdjust="spacingAndGlyphs">21</text>
<text x="738.01" y="653" font-family="DejaVu Sans Condensed, DejaVu Sans, Liberation Sans, sans-serif" font-weight="bold" stroke="#211c5e" stroke-width="0.35" font-size="24" fill="#211c5e" text-anchor="middle" textLength="27.6" lengthAdjust="spacingAndGlyphs">22</text>
<text x="768.46" y="653" font-family="DejaVu Sans Condensed, DejaVu Sans, Liberation Sans, sans-serif" font-weight="bold" stroke="#211c5e" stroke-width="0.35" font-size="24" fill="#211c5e" text-anchor="middle" textLength="27.6" lengthAdjust="spacingAndGlyphs">23</text>
<text x="798.90" y="653" font-family="DejaVu Sans Condensed, DejaVu Sans, Liberation Sans, sans-serif" font-weight="bold" stroke="#211c5e" stroke-width="0.35" font-size="24" fill="#211c5e" text-anchor="middle" textLength="27.6" lengthAdjust="spacingAndGlyphs">24</text>
<text x="829.35" y="653" font-family="DejaVu Sans Condensed, DejaVu Sans, Liberation Sans, sans-serif" font-weight="bold" stroke="#211c5e" stroke-width="0.35" font-size="24" fill="#211c5e" text-anchor="middle" textLength="27.6" lengthAdjust="spacingAndGlyphs">25</text>
<text x="859.80" y="653" font-family="DejaVu Sans Condensed, DejaVu Sans, Liberation Sans, sans-serif" font-weight="bold" stroke="#211c5e" stroke-width="0.35" font-size="24" fill="#211c5e" text-anchor="middle" textLength="27.6" lengthAdjust="spacingAndGlyphs">26</text>
<text x="890.25" y="653" font-family="DejaVu Sans Condensed, DejaVu Sans, Liberation Sans, sans-serif" font-weight="bold" stroke="#211c5e" stroke-width="0.35" font-size="24" fill="#211c5e" text-anchor="middle" textLength="27.6" lengthAdjust="spacingAndGlyphs">27</text>
<text x="920.69" y="653" font-family="DejaVu Sans Condensed, DejaVu Sans, Liberation Sans, sans-serif" font-weight="bold" stroke="#211c5e" stroke-width="0.35" font-size="24" fill="#211c5e" text-anchor="middle" textLength="27.6" lengthAdjust="spacingAndGlyphs">28</text>
<text x="951.14" y="653" font-family="DejaVu Sans Condensed, DejaVu Sans, Liberation Sans, sans-serif" font-weight="bold" stroke="#211c5e" stroke-width="0.35" font-size="24" fill="#211c5e" text-anchor="middle" textLength="27.6" lengthAdjust="spacingAndGlyphs">29</text>
<text x="981.59" y="653" font-family="DejaVu Sans Condensed, DejaVu Sans, Liberation Sans, sans-serif" font-weight="bold" stroke="#211c5e" stroke-width="0.35" font-size="24" fill="#211c5e" text-anchor="middle" textLength="27.6" lengthAdjust="spacingAndGlyphs">30</text>
<text x="1012.03" y="653" font-family="DejaVu Sans Condensed, DejaVu Sans, Liberation Sans, sans-serif" font-weight="bold" stroke="#211c5e" stroke-width="0.35" font-size="24" fill="#211c5e" text-anchor="middle" textLength="27.6" lengthAdjust="spacingAndGlyphs">31</text>
<text x="1042.48" y="653" font-family="DejaVu Sans Condensed, DejaVu Sans, Liberation Sans, sans-serif" font-weight="bold" stroke="#211c5e" stroke-width="0.35" font-size="24" fill="#211c5e" text-anchor="middle" textLength="27.6" lengthAdjust="spacingAndGlyphs">32</text>
<text x="1072.93" y="653" font-family="DejaVu Sans Condensed, DejaVu Sans, Liberation Sans, sans-serif" font-weight="bold" stroke="#211c5e" stroke-width="0.35" font-size="24" fill="#211c5e" text-anchor="middle" textLength="27.6" lengthAdjust="spacingAndGlyphs">33</text>
<text x="1103.37" y="653" font-family="DejaVu Sans Condensed, DejaVu Sans, Liberation Sans, sans-serif" font-weight="bold" stroke="#211c5e" stroke-width="0.35" font-size="24" fill="#211c5e" text-anchor="middle" textLength="27.6" lengthAdjust="spacingAndGlyphs">34</text>
<text x="1133.82" y="653" font-family="DejaVu Sans Condensed, DejaVu Sans, Liberation Sans, sans-serif" font-weight="bold" stroke="#211c5e" stroke-width="0.35" font-size="24" fill="#211c5e" text-anchor="middle" textLength="27.6" lengthAdjust="spacingAndGlyphs">35</text>
<text x="1164.27" y="653" font-family="DejaVu Sans Condensed, DejaVu Sans, Liberation Sans, sans-serif" font-weight="bold" stroke="#211c5e" stroke-width="0.35" font-size="24" fill="#211c5e" text-anchor="middle" textLength="27.6" lengthAdjust="spacingAndGlyphs">36</text>
<text x="1194.72" y="653" font-family="DejaVu Sans Condensed, DejaVu Sans, Liberation Sans, sans-serif" font-weight="bold" stroke="#211c5e" stroke-width="0.35" font-size="24" fill="#211c5e" text-anchor="middle" textLength="27.6" lengthAdjust="spacingAndGlyphs">37</text>
<text x="1225.16" y="653" font-family="DejaVu Sans Condensed, DejaVu Sans, Liberation Sans, sans-serif" font-weight="bold" stroke="#211c5e" stroke-width="0.35" font-size="24" fill="#211c5e" text-anchor="middle">1</text>
<text x="98.62" y="683.7" font-family="DejaVu Sans Condensed, DejaVu Sans, Liberation Sans, sans-serif" font-weight="bold" stroke="#211c5e" stroke-width="0.4" font-size="23.3" fill="#211c5e" text-anchor="middle">M</text>
<text x="129.07" y="683.7" font-family="DejaVu Sans Condensed, DejaVu Sans, Liberation Sans, sans-serif" font-weight="bold" stroke="#211c5e" stroke-width="0.4" font-size="23.3" fill="#211c5e" text-anchor="middle">H</text>
<text x="159.52" y="683.7" font-family="DejaVu Sans Condensed, DejaVu Sans, Liberation Sans, sans-serif" font-weight="bold" stroke="#211c5e" stroke-width="0.4" font-size="23.3" fill="#211c5e" text-anchor="middle">M</text>
<text x="189.96" y="683.7" font-family="DejaVu Sans Condensed, DejaVu Sans, Liberation Sans, sans-serif" font-weight="bold" stroke="#211c5e" stroke-width="0.4" font-size="23.3" fill="#211c5e" text-anchor="middle">M</text>
<text x="220.41" y="678.6" font-family="DejaVu Sans Condensed, DejaVu Sans, Liberation Sans, sans-serif" font-weight="bold" font-size="15.4" fill="#211c5e" stroke="#211c5e" stroke-width="1.8" stroke-linejoin="round" text-anchor="middle">*</text>
<text x="250.86" y="678.6" font-family="DejaVu Sans Condensed, DejaVu Sans, Liberation Sans, sans-serif" font-weight="bold" font-size="15.4" fill="#211c5e" stroke="#211c5e" stroke-width="1.8" stroke-linejoin="round" text-anchor="middle">*</text>
<text x="281.31" y="678.6" font-family="DejaVu Sans Condensed, DejaVu Sans, Liberation Sans, sans-serif" font-weight="bold" font-size="15.4" fill="#211c5e" stroke="#211c5e" stroke-width="1.8" stroke-linejoin="round" text-anchor="middle">*</text>
<text x="403.09" y="683.7" font-family="DejaVu Sans Condensed, DejaVu Sans, Liberation Sans, sans-serif" font-weight="bold" stroke="#211c5e" stroke-width="0.4" font-size="23.3" fill="#211c5e" text-anchor="middle">C</text>
<text x="463.99" y="683.7" font-family="DejaVu Sans Condensed, DejaVu Sans, Liberation Sans, sans-serif" font-weight="bold" stroke="#211c5e" stroke-width="0.4" font-size="23.3" fill="#211c5e" text-anchor="middle">C</text>
<text x="494.43" y="683.7" font-family="DejaVu Sans Condensed, DejaVu Sans, Liberation Sans, sans-serif" font-weight="bold" stroke="#211c5e" stroke-width="0.4" font-size="23.3" fill="#211c5e" text-anchor="middle">C</text>
<text x="524.88" y="683.7" font-family="DejaVu Sans Condensed, DejaVu Sans, Liberation Sans, sans-serif" font-weight="bold" stroke="#211c5e" stroke-width="0.4" font-size="23.3" fill="#211c5e" text-anchor="middle">S</text>
<text x="1225.16" y="683.7" font-family="DejaVu Sans Condensed, DejaVu Sans, Liberation Sans, sans-serif" font-weight="bold" stroke="#211c5e" stroke-width="0.4" font-size="23.3" fill="#211c5e" text-anchor="middle">L</text>
<text x="250.86" y="714.3" font-family="DejaVu Sans Condensed, DejaVu Sans, Liberation Sans, sans-serif" font-weight="bold" stroke="#211c5e" stroke-width="0.4" font-size="23.3" fill="#211c5e" text-anchor="middle">X</text>
<text x="281.31" y="714.3" font-family="DejaVu Sans Condensed, DejaVu Sans, Liberation Sans, sans-serif" font-weight="bold" stroke="#211c5e" stroke-width="0.4" font-size="23.3" fill="#211c5e" text-anchor="middle">X</text>
<text x="555.33" y="714.3" font-family="DejaVu Sans Condensed, DejaVu Sans, Liberation Sans, sans-serif" font-weight="bold" stroke="#211c5e" stroke-width="0.4" font-size="23.3" fill="#211c5e" text-anchor="middle">X</text>
<text x="677.12" y="714.3" font-family="DejaVu Sans Condensed, DejaVu Sans, Liberation Sans, sans-serif" font-weight="bold" stroke="#211c5e" stroke-width="0.4" font-size="23.3" fill="#211c5e" text-anchor="middle">X</text>
<text x="738.01" y="714.3" font-family="DejaVu Sans Condensed, DejaVu Sans, Liberation Sans, sans-serif" font-weight="bold" stroke="#211c5e" stroke-width="0.4" font-size="23.3" fill="#211c5e" text-anchor="middle">X</text>
<text x="859.80" y="714.3" font-family="DejaVu Sans Condensed, DejaVu Sans, Liberation Sans, sans-serif" font-weight="bold" stroke="#211c5e" stroke-width="0.4" font-size="23.3" fill="#211c5e" text-anchor="middle">X</text>
<text x="920.69" y="714.3" font-family="DejaVu Sans Condensed, DejaVu Sans, Liberation Sans, sans-serif" font-weight="bold" stroke="#211c5e" stroke-width="0.4" font-size="23.3" fill="#211c5e" text-anchor="middle">X</text>
<text x="1012.03" y="714.3" font-family="DejaVu Sans Condensed, DejaVu Sans, Liberation Sans, sans-serif" font-weight="bold" stroke="#211c5e" stroke-width="0.4" font-size="23.3" fill="#211c5e" text-anchor="middle">X</text>
<text x="1042.48" y="714.3" font-family="DejaVu Sans Condensed, DejaVu Sans, Liberation Sans, sans-serif" font-weight="bold" stroke="#211c5e" stroke-width="0.4" font-size="23.3" fill="#211c5e" text-anchor="middle">X</text>
<text x="1072.93" y="714.3" font-family="DejaVu Sans Condensed, DejaVu Sans, Liberation Sans, sans-serif" font-weight="bold" stroke="#211c5e" stroke-width="0.4" font-size="23.3" fill="#211c5e" text-anchor="middle">X</text>
<text x="1133.82" y="714.3" font-family="DejaVu Sans Condensed, DejaVu Sans, Liberation Sans, sans-serif" font-weight="bold" stroke="#211c5e" stroke-width="0.4" font-size="23.3" fill="#211c5e" text-anchor="middle">X</text>
<text x="1164.27" y="714.3" font-family="DejaVu Sans Condensed, DejaVu Sans, Liberation Sans, sans-serif" font-weight="bold" stroke="#211c5e" stroke-width="0.4" font-size="23.3" fill="#211c5e" text-anchor="middle">X</text>
<rect x="52" y="725" width="28.8" height="24.6" fill="#739e6d"/>
<text x="65.9" y="742.5" font-family="DejaVu Sans, Liberation Sans, sans-serif" font-size="15.4" fill="#f3f6ee" text-anchor="middle">01</text>
<rect x="1243.3" y="725" width="25" height="24.4" fill="#739e6d"/>
<text x="1253.9" y="742.6" font-family="DejaVu Sans, Liberation Sans, sans-serif" font-size="15.4" fill="#f3f6ee" text-anchor="middle">01</text>
<rect x="82.4" y="755.2" width="28.7" height="28.3" fill="#739e6d"/>
<text x="96.4" y="775" font-family="DejaVu Sans, Liberation Sans, sans-serif" font-size="15.4" fill="#f3f6ee" text-anchor="middle">01</text>
<text x="113.8" y="774.3" font-family="DejaVu Sans, Liberation Sans, sans-serif" font-size="21.5" fill="#211c5e" textLength="84.2" lengthAdjust="spacingAndGlyphs">Cramps</text>
<text x="661.9" y="830.3" font-family="DejaVu Sans, Liberation Sans, sans-serif" font-size="21.5" fill="#989898" text-anchor="middle" textLength="289.4" lengthAdjust="spacingAndGlyphs">https://FertilityFriend.com</text>
<text x="661.7" y="852" font-family="DejaVu Sans, Liberation Sans, sans-serif" font-size="14.6" fill="#9b9b9b" text-anchor="middle" textLength="552" lengthAdjust="spacingAndGlyphs">Copyright 1998-2023 Tamtris Web Services Inc. - All Rights Reserved.</text>
</svg></body></html>
